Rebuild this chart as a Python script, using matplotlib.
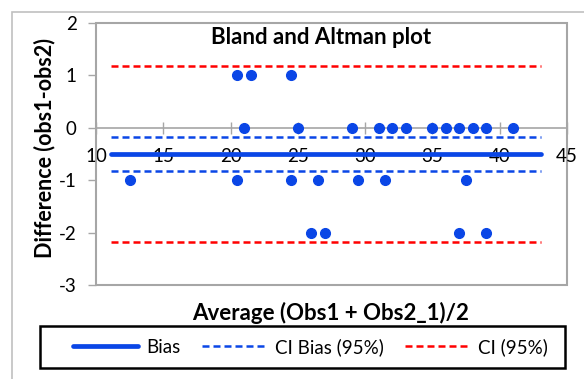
import matplotlib
matplotlib.use("Agg")
import matplotlib.pyplot as plt
from matplotlib.patches import Rectangle
from matplotlib.lines import Line2D

plt.rcParams['font.family'] = ['Lato', 'DejaVu Sans']

# Data
avg_vals = [20.5, 21.5, 24.5,
            21, 25, 29, 31, 32, 33, 35, 36, 37, 38, 39, 41,
            12.5, 20.5, 24.5, 26.5, 29.5, 31.5, 37.5,
            26, 27, 37, 39]
diff_vals = [1, 1, 1,
             0, 0, 0, 0, 0, 0, 0, 0, 0, 0, 0, 0,
             -1, -1, -1, -1, -1, -1, -1,
             -2, -2, -2, -2]
line_x = [11.1, 43.1]
bias = -0.5
ci_bias = [-0.17, -0.83]
ci = [1.18, -2.18]
xticks = [10, 15, 20, 25, 30, 35, 40, 45]
yticks = [-3, -2, -1, 0, 1, 2]

blue = '#0a46e6'
red = '#ff0000'
gray = '#a6a6a6'
dash = (0, (2.8, 1.6))

W, H = 584, 379
fig = plt.figure(figsize=(W/100, H/100), dpi=100)

# outer chart border
fig.patches.append(Rectangle((12/W, -0.1), 1.2, (H-12)/H + 0.1, transform=fig.transFigure,
                             fill=False, edgecolor='#c0c0c0', linewidth=1.2))

ax = fig.add_axes([96/W, 1-285/H, (567-96)/W, (285-23)/H])
ax.set_xlim(10, 45)
ax.set_ylim(-3, 2)

for s in ['top', 'right']:
    ax.spines[s].set_visible(False)
ax.spines['left'].set_color(gray)
ax.spines['left'].set_linewidth(1.2)
ax.spines['bottom'].set_position(('data', 0))
ax.spines['bottom'].set_color(gray)
ax.spines['bottom'].set_linewidth(1.2)
ax.add_patch(Rectangle((0, 0), 1, 1, transform=ax.transAxes, fill=False,
                       edgecolor=gray, linewidth=1.5, clip_on=False, zorder=0))

ax.set_xticks(xticks)
ax.set_xticklabels([str(t) for t in xticks])
ax.set_yticks(yticks)
ax.set_yticklabels([str(t) for t in yticks])
ax.tick_params(axis='x', direction='inout', length=9, width=1, color=gray, pad=10, labelsize=13.5)
ax.tick_params(axis='y', direction='out', length=6, width=1, color=gray, pad=8, labelsize=13.5)

ax.plot(line_x, [ci[0]]*2, color=red, lw=1.8, ls=dash)
ax.plot(line_x, [ci[1]]*2, color=red, lw=1.8, ls=dash)
ax.plot(line_x, [ci_bias[0]]*2, color=blue, lw=1.8, ls=dash)
ax.plot(line_x, [ci_bias[1]]*2, color=blue, lw=1.8, ls=dash)
ax.plot(line_x, [bias]*2, color=blue, lw=3.4, solid_capstyle='round', zorder=3)
ax.plot(avg_vals, diff_vals, 'o', color=blue, markersize=7, zorder=4, clip_on=False)

fig.text(321/W, 1-38/H, 'Bland and Altman plot', ha='center', va='center',
         fontsize=16, fontweight='bold')
fig.text(331/W, 1-313/H, 'Average (Obs1 + Obs2_1)/2', ha='center', va='center',
         fontsize=16, fontweight='bold')
fig.text(45/W, 1-148/H, 'Difference (obs1-obs2)', ha='center', va='center',
         fontsize=15.5, fontweight='bold', rotation=90)

# legend box
fig.patches.append(Rectangle((40/W, 1-368/H), (565-40)/W, (368-326)/H,
                             transform=fig.transFigure, fill=False,
                             edgecolor='black', linewidth=1.8))
handles = [Line2D([], [], color=blue, lw=3.4, solid_capstyle='round'),
           Line2D([], [], color=blue, lw=1.8, ls=dash),
           Line2D([], [], color=red, lw=1.8, ls=dash)]
labels = ['Bias', 'CI Bias (95%)', 'CI (95%)']
leg = fig.legend(handles, labels, loc='center', ncol=3,
                 bbox_to_anchor=((40+565)/2/W + 8/W, 1-347/H),
                 fontsize=13.5, handlelength=3.5, columnspacing=1.15, handletextpad=0.4,
                 frameon=False)

fig.savefig('out.png', dpi=100)
